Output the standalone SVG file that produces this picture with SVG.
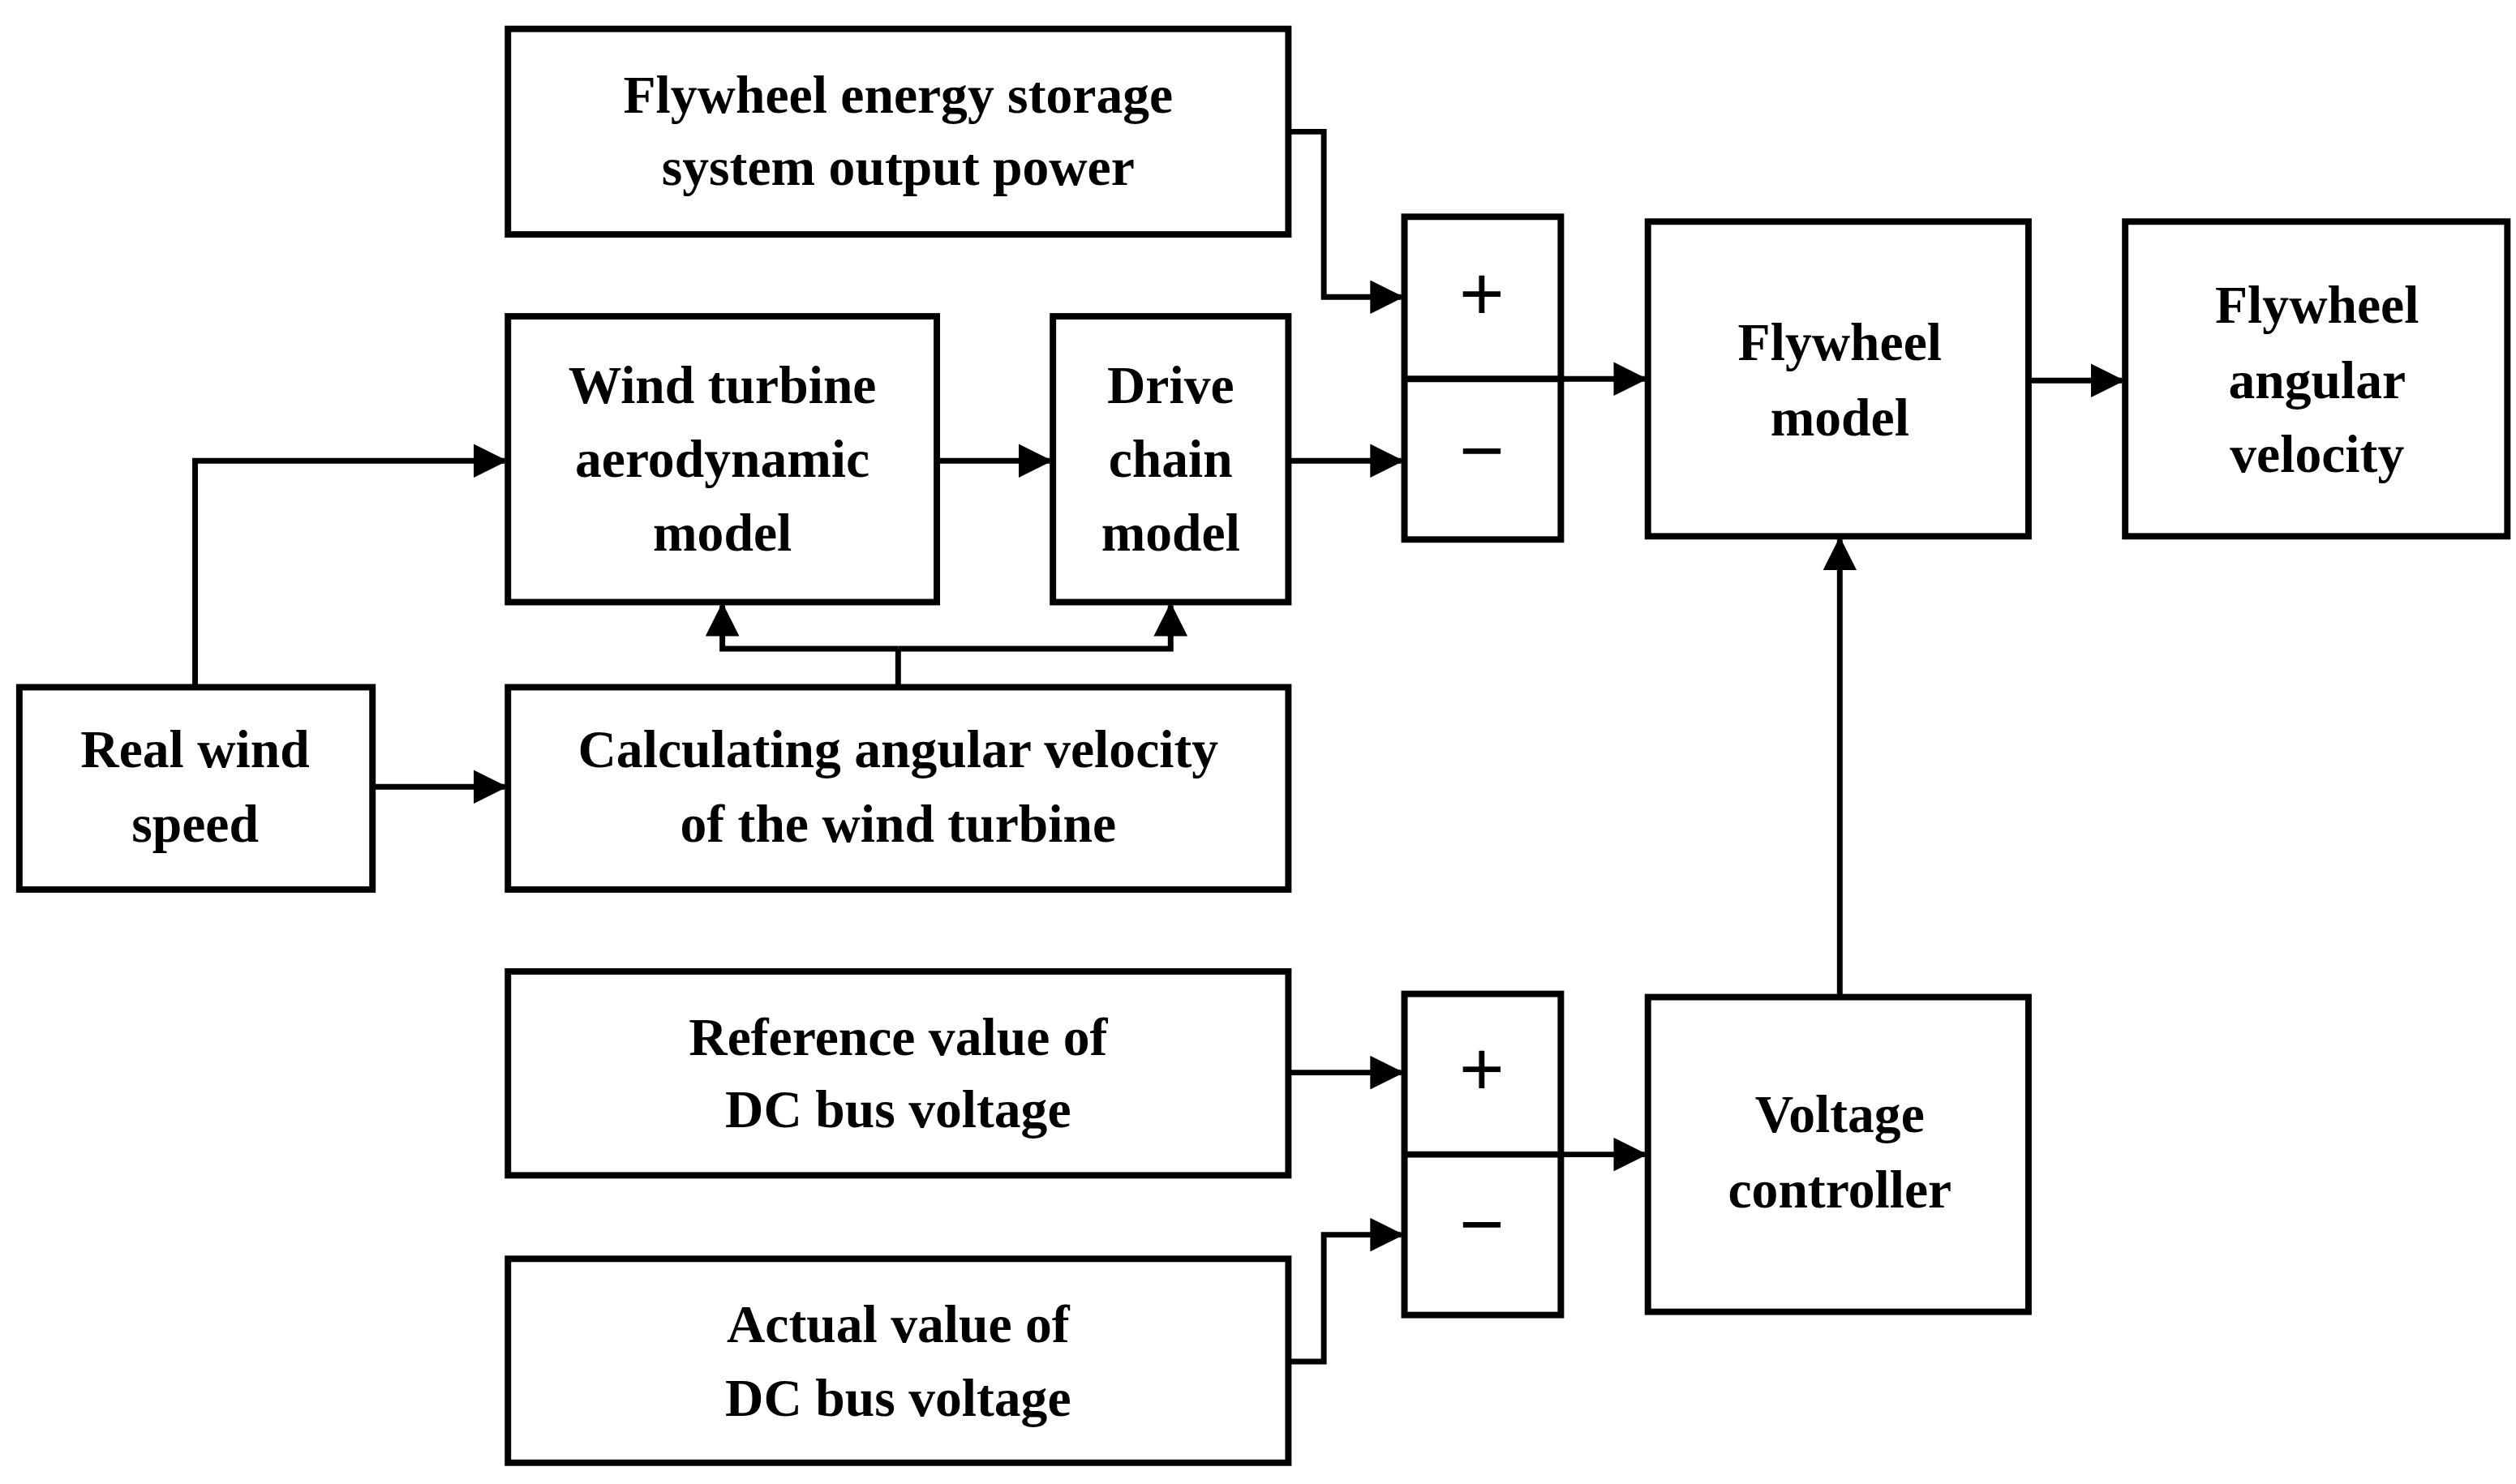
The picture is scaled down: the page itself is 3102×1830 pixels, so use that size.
<svg xmlns="http://www.w3.org/2000/svg" width="3102" height="1830" viewBox="0 0 3102 1830">
<style>
.b{fill:#fff;stroke:#000;stroke-width:4}
.t{font-family:"Liberation Serif",serif;font-weight:bold;font-size:33px;text-anchor:middle;fill:#000}
.s{font-family:"Liberation Sans",sans-serif;font-size:48px;text-anchor:middle;fill:#000}
.c{fill:none;stroke:#000;stroke-width:3.5}
</style>
<defs><marker id="a" markerWidth="6" markerHeight="6" refX="5.5" refY="3" orient="auto" markerUnits="strokeWidth"><path d="M0,0L6,3L0,6z" fill="#000"/></marker></defs>
<rect width="3102" height="1830" fill="#fff"/>
<g transform="scale(1.988,1.98)">
<g id="connectors">
<path class="c" marker-end="url(#a)" d="M799,82H821V185H869"/>
<path class="c" marker-end="url(#a)" d="M121,428V287H313"/>
<path class="c" marker-end="url(#a)" d="M231,490H313"/>
<path class="c" marker-end="url(#a)" d="M581,287H651"/>
<path class="c" marker-end="url(#a)" d="M799,287H869"/>
<path class="c" d="M557,428V404"/>
<path class="c" marker-end="url(#a)" d="M557,404H448V377"/>
<path class="c" marker-end="url(#a)" d="M557,404H726V377"/>
<path class="c" marker-end="url(#a)" d="M968,236H1020"/>
<path class="c" marker-end="url(#a)" d="M1258,237H1316"/>
<path class="c" marker-end="url(#a)" d="M1141,621V336"/>
<path class="c" marker-end="url(#a)" d="M799,668H869"/>
<path class="c" marker-end="url(#a)" d="M799,848H821V769H869"/>
<path class="c" marker-end="url(#a)" d="M968,719H1020"/>
</g>
<g id="ess"><rect class="b" x="315" y="18" width="484" height="128"/><text class="t" x="557" y="70">Flywheel energy storage</text><text class="t" x="557" y="115">system output power</text></g>
<g id="aero"><rect class="b" x="315" y="197" width="266" height="178"/><text class="t" x="448" y="251">Wind turbine</text><text class="t" x="448" y="297">aerodynamic</text><text class="t" x="448" y="343">model</text></g>
<g id="drive"><rect class="b" x="653" y="197" width="146" height="178"/><text class="t" x="726" y="251">Drive</text><text class="t" x="726" y="297">chain</text><text class="t" x="726" y="343">model</text></g>
<g id="sum1"><rect class="b" x="871" y="135" width="97" height="201"/><line x1="871" y1="236" x2="968" y2="236" stroke="#000" stroke-width="4"/><text class="s" x="919" y="199">+</text><text class="s" x="919" y="297">−</text></g>
<g id="flymodel"><rect class="b" x="1022" y="138" width="236" height="196"/><text class="t" x="1141" y="224">Flywheel</text><text class="t" x="1141" y="271">model</text></g>
<g id="flyvel"><rect class="b" x="1318" y="138" width="237" height="196"/><text class="t" x="1437" y="201">Flywheel</text><text class="t" x="1437" y="248">angular</text><text class="t" x="1437" y="294">velocity</text></g>
<g id="wind"><rect class="b" x="12" y="428" width="219" height="126"/><text class="t" x="121" y="478">Real wind</text><text class="t" x="121" y="524">speed</text></g>
<g id="calc"><rect class="b" x="315" y="428" width="484" height="126"/><text class="t" x="557" y="478">Calculating angular velocity</text><text class="t" x="557" y="524">of the wind turbine</text></g>
<g id="ref"><rect class="b" x="315" y="605" width="484" height="127"/><text class="t" x="557" y="657">Reference value of</text><text class="t" x="557" y="702">DC bus voltage</text></g>
<g id="act"><rect class="b" x="315" y="784" width="484" height="127"/><text class="t" x="557" y="836">Actual value of</text><text class="t" x="557" y="882">DC bus voltage</text></g>
<g id="sum2"><rect class="b" x="871" y="619" width="97" height="200"/><line x1="871" y1="719" x2="968" y2="719" stroke="#000" stroke-width="4"/><text class="s" x="919" y="682">+</text><text class="s" x="919" y="779">−</text></g>
<g id="vc"><rect class="b" x="1022" y="621" width="236" height="196"/><text class="t" x="1141" y="705">Voltage</text><text class="t" x="1141" y="752">controller</text></g>
</g>
</svg>
